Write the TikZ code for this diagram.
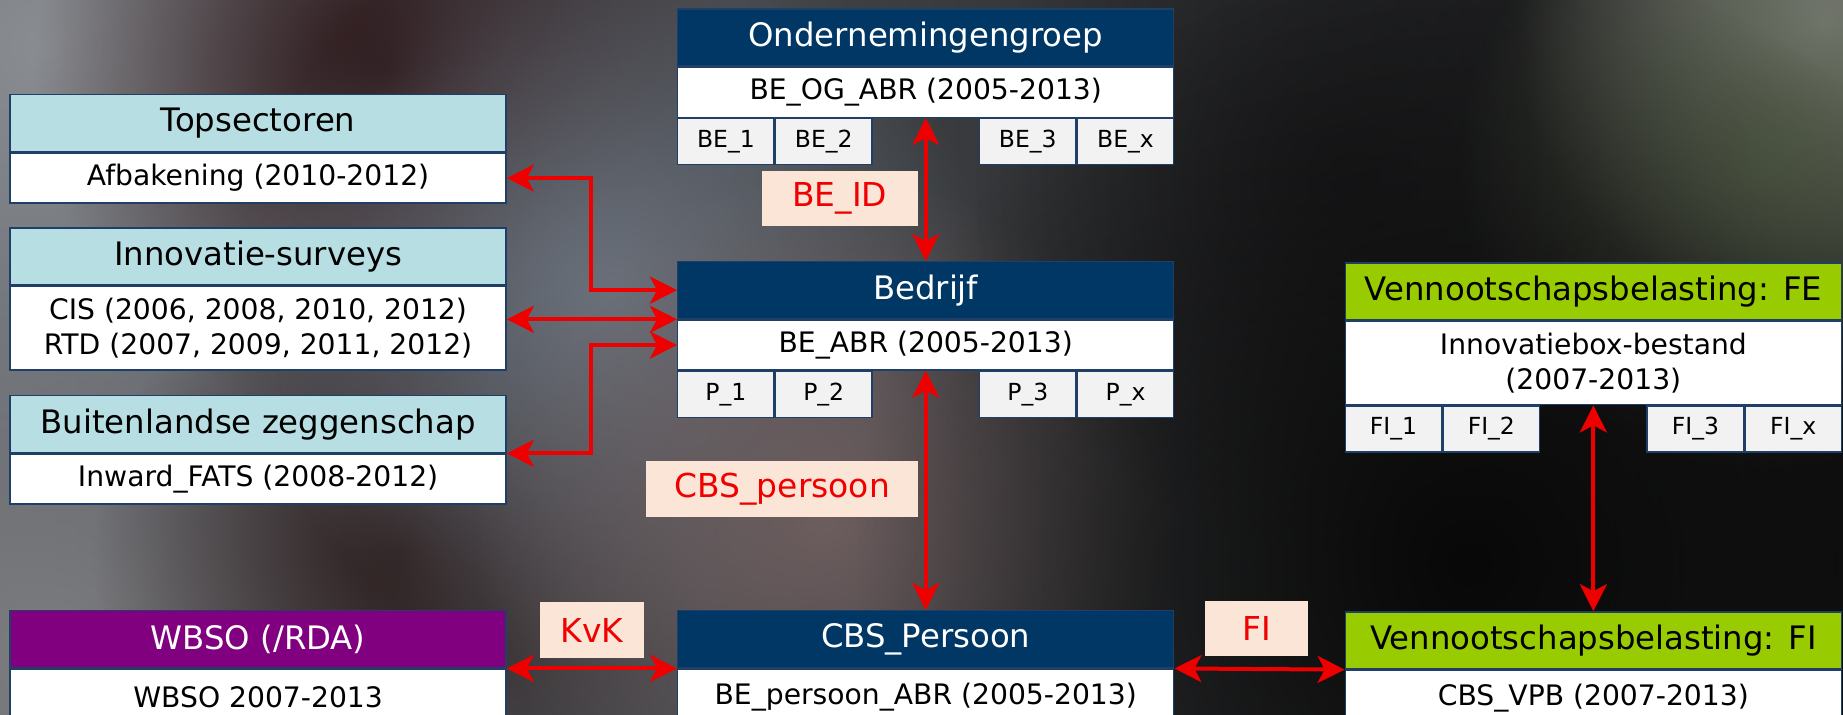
\documentclass[tikz,border=0pt]{standalone}
\usepackage{fontspec}
\setmainfont{DejaVu Sans}
\usetikzlibrary{positioning,arrows.meta,fadings}

\definecolor{navyhead}{HTML}{003764}
\definecolor{cyanhead}{HTML}{B7DEE2}
\definecolor{purplehead}{HTML}{800080}
\definecolor{greenhead}{HTML}{99CC00}
\definecolor{edgeblue}{HTML}{1F3F66}
\definecolor{subgrey}{HTML}{F2F2F2}
\definecolor{keypeach}{HTML}{FBE5D6}
\definecolor{keyred}{HTML}{F00000}
\definecolor{linkred}{HTML}{EE0000}
\definecolor{bgleft}{HTML}{62666C}
\definecolor{bgmid}{HTML}{4A4446}
\definecolor{bgright}{HTML}{121212}
\definecolor{bgA}{HTML}{8A8D92}
\definecolor{bgB}{HTML}{7D7D80}
\definecolor{bgC}{HTML}{2A1416}
\definecolor{bgD}{HTML}{6B737E}
\definecolor{bgE}{HTML}{2E2020}
\definecolor{bgF}{HTML}{6D5D5E}
\definecolor{bgG}{HTML}{1A1A1C}
\definecolor{bgH}{HTML}{8A8A8A}
\definecolor{bgI}{HTML}{56604A}
\definecolor{bgJ}{HTML}{080808}

\tikzfading[name=blobfade, inner color=transparent!0, outer color=transparent!100]

\tikzset{
  cell/.style={draw=edgeblue, line width=1.2pt, inner sep=0pt, minimum width=422pt, align=center},
  headcell/.style={cell, minimum height=48.5pt, font=\fontsize{27.5}{33}\selectfont},
  bodycell/.style={cell, fill=white, minimum height=42.5pt, font=\fontsize{24}{29.5}\selectfont},
  subcell/.style={cell, fill=subgrey, minimum width=82pt, minimum height=39pt, font=\fontsize{20}{24}\selectfont},
  keylabel/.style={fill=keypeach, text=keyred, minimum height=47pt, inner xsep=0pt, font=\fontsize{28}{34}\selectfont},
  keyarrow/.style={draw=linkred, line width=3.4pt,
    {Stealth[length=23pt,width=23pt,inset=6pt]}-{Stealth[length=23pt,width=23pt,inset=6pt]}},
}

\begin{document}
\begin{tikzpicture}[x=1pt,y=-1pt]
\useasboundingbox (0,0) rectangle (1568,608);
\clip (0,0) rectangle (1568,608);

\shade[left color=bgleft, middle color=bgmid, right color=bgright] (0,0) rectangle (1568,608);
\foreach \cx/\cy/\r/\c in {40/40/420/bgA, 40/560/320/bgB, 330/60/300/bgC,
    340/470/260/bgE, 520/250/320/bgD, 700/440/300/bgF, 1150/150/320/bgG,
    1550/20/260/bgH, 1500/140/260/bgI, 1250/480/520/bgJ}
  \fill[\c, path fading=blobfade] (\cx,\cy) circle (\r);

\node[headcell, fill=cyanhead, anchor=north west] (topT) at (8,80) {Topsectoren};
\node[bodycell, below=0pt of topT] (topB) {Afbakening (2010-2012)};

\node[headcell, fill=cyanhead, anchor=north west] (innT) at (8,193.5) {Innovatie-surveys};
\node[bodycell, minimum height=71pt, below=0pt of innT] (innB)
  {CIS (2006, 2008, 2010, 2012)\\RTD (2007, 2009, 2011, 2012)};

\node[headcell, fill=cyanhead, anchor=north west] (buiT) at (8,336) {Buitenlandse zeggenschap};
\node[bodycell, below=0pt of buiT] (buiB) {Inward\_FATS (2008-2012)};

\node[headcell, fill=purplehead, text=white, anchor=north west] (wbT) at (8,519) {WBSO (/RDA)};
\node[bodycell, minimum height=48pt, below=0pt of wbT] (wbB) {WBSO 2007-2013};

\node[headcell, fill=navyhead, text=white, anchor=north west] (ogT) at (576,7) {Ondernemingengroep};
\node[bodycell, below=0pt of ogT] (ogB) {BE\_OG\_ABR (2005-2013)};
\node[subcell, anchor=north west] (ogS1) at (ogB.south west) {BE\_1};
\node[subcell, anchor=north west] (ogS2) at (ogS1.north east) {BE\_2};
\node[subcell, anchor=north east] (ogS4) at (ogB.south east) {BE\_x};
\node[subcell, anchor=north east] (ogS3) at (ogS4.north west) {BE\_3};

\node[headcell, fill=navyhead, text=white, anchor=north west] (bedT) at (576,222) {Bedrijf};
\node[bodycell, below=0pt of bedT] (bedB) {BE\_ABR (2005-2013)};
\node[subcell, anchor=north west] (bedS1) at (bedB.south west) {P\_1};
\node[subcell, anchor=north west] (bedS2) at (bedS1.north east) {P\_2};
\node[subcell, anchor=north east] (bedS4) at (bedB.south east) {P\_x};
\node[subcell, anchor=north east] (bedS3) at (bedS4.north west) {P\_3};

\node[headcell, fill=navyhead, text=white, anchor=north west] (cbsT) at (576,519) {CBS\_Persoon};
\node[bodycell, minimum height=48pt, below=0pt of cbsT] (cbsB) {BE\_persoon\_ABR (2005-2013)};

\node[headcell, fill=greenhead, anchor=north west] (feT) at (1144,223) {Vennootschapsbelasting: FE};
\node[bodycell, minimum height=71pt, below=0pt of feT] (feB) {Innovatiebox-bestand\\(2007-2013)};
\node[subcell, anchor=north west] (feS1) at (feB.south west) {FI\_1};
\node[subcell, anchor=north west] (feS2) at (feS1.north east) {FI\_2};
\node[subcell, anchor=north east] (feS4) at (feB.south east) {FI\_x};
\node[subcell, anchor=north east] (feS3) at (feS4.north west) {FI\_3};

\node[headcell, fill=greenhead, anchor=north west] (fiT) at (1144,520) {Vennootschapsbelasting: FI};
\node[bodycell, minimum height=48pt, below=0pt of fiT] (fiB) {CBS\_VPB (2007-2013)};

\node[keylabel, minimum width=133pt] (beid) at (714.5,169) {BE\_ID};
\node[keylabel, minimum width=231pt] (cbsp) at (665.5,416) {CBS\_persoon};
\node[keylabel, minimum width=89pt] (kvk) at (503.5,536) {KvK};
\node[keylabel, minimum width=88pt] (fi) at (1069,535) {FI};

\coordinate (bus) at (503,0);
\draw[keyarrow] (topB.east) -- (topB.east -| bus) |- (bedT.west);
\draw[keyarrow] (innB.east |- bedT.south west) -- (bedT.south west);
\draw[keyarrow] (buiT.south east) -- (buiT.south east -| bus) |- (bedB.west);
\draw[keyarrow] (ogB.south) -- (bedT.north);
\draw[keyarrow] (bedB.south) -- (cbsT.north);
\draw[keyarrow] (feB.south) -- (fiT.north);
\draw[keyarrow] (wbT.south east) -- (cbsT.south west);
\draw[keyarrow] (cbsT.south east) -- (fiT.south west);
\end{tikzpicture}
\end{document}
